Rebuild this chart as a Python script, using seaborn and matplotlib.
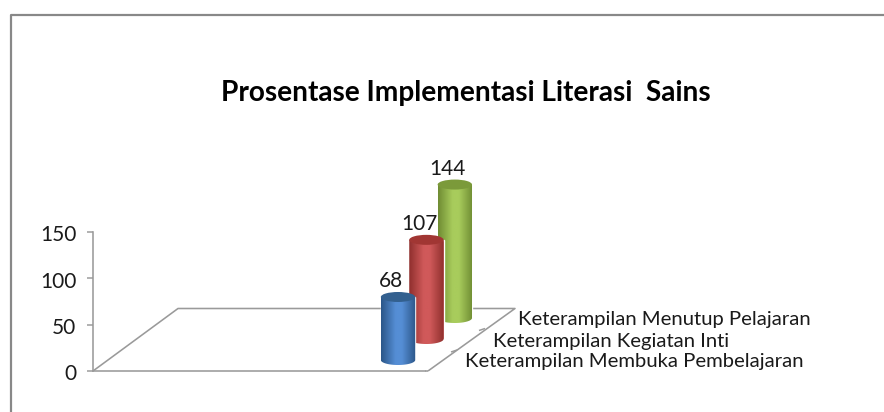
import numpy as np
import pandas as pd
import matplotlib
matplotlib.use("Agg")
import matplotlib.pyplot as plt
from matplotlib.colors import LinearSegmentedColormap
from matplotlib.lines import Line2D
from matplotlib.patches import Ellipse, Polygon
from matplotlib.transforms import ScaledTranslation
import seaborn as sns

title = "Prosentase Implementasi Literasi  Sains"
categories = ["Keterampilan Membuka Pembelajaran", "Keterampilan Kegiatan Inti", "Keterampilan Menutup Pelajaran"]
values = [68, 107, 144]
y_ticks = [0, 50, 100, 150]

W, H = 884, 412
sns.set_theme(style="white")
plt.rcParams["font.family"] = ["Lato", "DejaVu Sans"]
TXT = "#1a1a1a"
AXC = "#9a9a9a"
PX = 0.72  # points per pixel at dpi 100

fig = plt.figure(figsize=(W / 100, H / 100), dpi=100, facecolor="white")
# axes box runs from the value axis to the front corner of the floor
ax = fig.add_axes([93 / W, 1 - 371 / H, (425 - 93) / W, (371 - 232) / H])
ax.patch.set_alpha(0)

df = pd.DataFrame({"cat": categories, "val": values})
mids = ["#558ed5", "#d0595a", "#a8cc5c"]
edges = ["#2b5688", "#8f2f2d", "#6f8c33"]
tops = ["#33608f", "#a13633", "#7b9a3a"]
sns.barplot(data=df, x="cat", y="val", hue="cat", order=categories, hue_order=categories,
            palette=mids, legend=False, dodge=False, width=1.21, saturation=1, ax=ax, zorder=3)

ax.set_xlim(-10.74, 0.95)
ax.set_ylim(0, 150)
ax.set_xlabel("")
ax.set_ylabel("")
ax.set_xticks([])
ax.set_yticks(y_ticks)
ax.tick_params(axis="y", left=True, length=6 * PX, width=1.5 * PX, color=AXC, labelsize=15,
               labelcolor=TXT, pad=10.5 * PX)
down = ScaledTranslation(0, -1.2 / 100, fig.dpi_scale_trans)
for lab in ax.get_yticklabels():
    lab.set_transform(lab.get_transform() + down)
for s in ["top", "right"]:
    ax.spines[s].set_visible(False)
for s in ["left", "bottom"]:
    ax.spines[s].set_color(AXC)
    ax.spines[s].set_linewidth(1.6 * PX)


def fig_line(xs, ys, color=AXC, lw=1.6, z=0.5):
    ax.add_line(Line2D(np.array(xs) / W, 1 - np.array(ys) / H, transform=fig.transFigure,
                       color=color, lw=lw * PX, clip_on=False, zorder=z, solid_capstyle="butt"))


# chart frame (open on the right and at the bottom)
fig_line([11, 11, 884], [412, 15, 15], color="#888888", lw=2.2)
# floor
fig_line([93, 178, 515, 428], [371, 308.5, 308.5, 371])
fig_line([425, 428], [371, 371])
for tx, ty in [(484, 328.5), (456, 350)]:
    fig_line([tx - 5, tx + 1], [ty + 2, ty], lw=1.5)

# depth of each series on the floor, px converted to value units
unit = (371 - 232) / 150
lift = [11 / unit, 32 / unit, 53 / unit]
ell_h = 10 / unit
bars = list(ax.patches)[:len(values)]
for i, bar in enumerate(bars):
    x0, w = bar.get_x(), bar.get_width()
    base = lift[i]
    v = values[i]
    z = 3 + (len(bars) - i) * 0.5
    bar.set_y(base)
    bar.set_clip_on(False)
    bar.set_zorder(z)
    top = base + v
    cx = x0 + w / 2
    t = np.linspace(np.pi, 2 * np.pi, 60)
    low = np.c_[cx + w / 2 * np.cos(t), base + ell_h / 2 * np.sin(t)]
    poly = np.vstack([low, [[x0 + w, top]], [[x0, top]]])
    clip = Polygon(poly, closed=True, transform=ax.transData, fc="none", ec="none")
    ax.add_patch(clip)
    cmap = LinearSegmentedColormap.from_list("c", [(0, edges[i]), (0.42, mids[i]), (0.6, mids[i]), (1, edges[i])])
    grad = cmap(np.linspace(0, 1, 128))[None, :, :]
    im = ax.imshow(grad, extent=(x0, x0 + w, base - ell_h / 2, top), aspect="auto", zorder=z + 0.1,
                   interpolation="bilinear")
    im.set_clip_box(fig.bbox)
    im.set_clip_path(clip)
    ax.add_patch(Ellipse((cx, top), w, ell_h, fc=tops[i], ec="none", clip_on=False, zorder=z + 0.2))
    ax.text(cx - 0.26, top + 17, str(v), ha="center", va="center", fontsize=15, color=TXT,
            clip_on=False, zorder=6)
ax.set_xlim(-10.74, 0.95)
ax.set_ylim(0, 150)

fig.text(466 / W, 1 - 92.5 / H, title, ha="center", va="center", fontsize=20.2, fontweight="bold", color="black")
label_pos = [(465, 362), (493, 341), (518, 319)]
for (lx, ly), lab in zip(label_pos, categories):
    fig.text(lx / W, 1 - ly / H, lab, ha="left", va="center", fontsize=14.55, color=TXT)

fig.savefig("out.png", dpi=100)
